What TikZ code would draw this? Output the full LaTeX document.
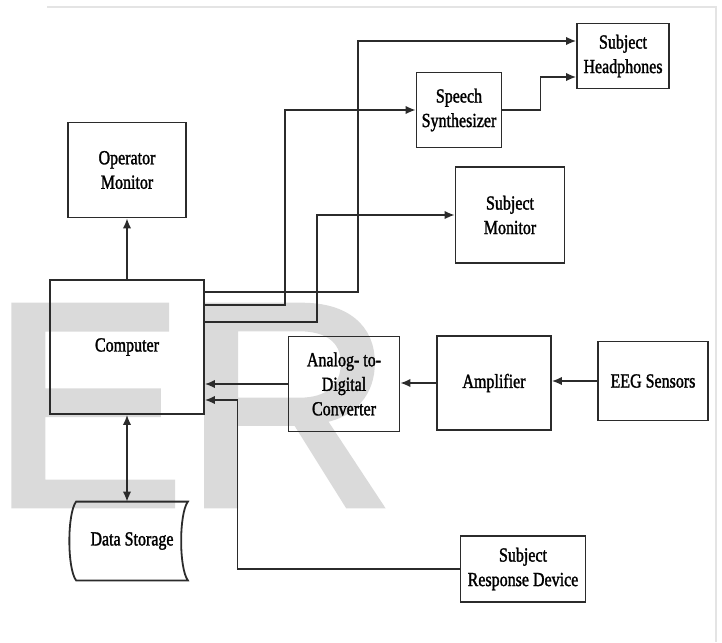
\documentclass[tikz,border=0pt]{standalone}
\usepackage{fontspec}
\usetikzlibrary{arrows.meta}
\newfontfamily\labelfont{Liberation Serif}[FakeStretch=0.8,FakeBold=1.5]
\newfontfamily\markfont{Liberation Sans}[FakeBold=2.4]
\definecolor{ink}{HTML}{2B2B2B}
\definecolor{wmgray}{HTML}{DADADA}
\definecolor{pageedge}{HTML}{E4E4E4}

\begin{document}
\begin{tikzpicture}[x=1pt, y=-1pt,
		blk/.style={draw=ink, line width=1.8pt, align=center, inner sep=0pt,
			font=\labelfont\fontsize{20}{24.5}\selectfont},
		wire/.style={draw=ink, line width=1.6pt},
		>={Latex[length=10pt,width=8.5pt]}]
		\useasboundingbox (0,0) rectangle (722,642);

		% page edge and watermark
		\draw [pageedge, line width=1.2pt] (47,7) -- (716,7) -- (716,642);
		\node [anchor=base west, inner sep=0pt, text=wmgray,
			font=\markfont\fontsize{289}{289}\selectfont] at (0,505) {\kern-9pt ER};

		% blocks
		\node [blk, minimum width=118, minimum height=95] (opmon) at (127,170) {Operator\\Monitor};
		\node [blk, minimum width=154, minimum height=134] (comp) at (127,347) {Computer};
		\node [blk, minimum width=92, minimum height=65] (phones) at (623,56) {Subject\\Headphones};
		\node [blk, minimum width=85, minimum height=75] (speech) at (459,110) {Speech\\Synthesizer};
		\node [blk, minimum width=109, minimum height=96] (smon) at (510,215) {Subject\\Monitor};
		\node [blk, minimum width=111, minimum height=95] (adc) at (344,384) {Analog- to-\\Digital\\Converter};
		\node [blk, minimum width=114, minimum height=94] (amp) at (494,383) {Amplifier};
		\node [blk, minimum width=110, minimum height=79] (eeg) at (653,381) {EEG Sensors};
		\node [blk, minimum width=125, minimum height=66] (resp) at (523,569) {Subject\\Response Device};

		% data storage drum
		\node [blk, draw=none, minimum width=110, minimum height=77] (store) at (132,541) {Data Storage};
		\draw [ink, line width=1.8pt] (store.north west) -- (store.north east)
			.. controls +(-9,12) and +(-9,-12) .. (store.south east) -- (store.south west)
			.. controls +(-9,-12) and +(-9,12) .. (store.north west) -- cycle;

		% outputs of the computer
		\draw [wire, ->] (comp.north) -- (opmon.south);
		\draw [wire, ->] ([yshift=55pt]comp.east) -- ++(153,0) |- ([yshift=15pt]phones.west);
		\draw [wire, ->] ([yshift=42pt]comp.east) -- ++(80,0) |- (speech.west);
		\draw [wire, ->] ([yshift=25pt]comp.east) -- ++(112,0) |- (smon.west);
		\draw [wire, ->] (speech.east) -- ++(38,0) |- ([yshift=-21pt]phones.west);
		\draw [wire, <->] (comp.south) -- (comp.south |- store.north);

		% signal chain into the computer
		\draw [wire, ->] (eeg.west) -- (eeg.west -| amp.east);
		\draw [wire, ->] (amp.west) -- (amp.west -| adc.east);
		\draw [wire, ->] (adc.west) -- (adc.west -| comp.east);
		\draw [wire, ->] (resp.west) -- ++(-222,0) |- ([yshift=-53pt]comp.east);
	\end{tikzpicture}
\end{document}
